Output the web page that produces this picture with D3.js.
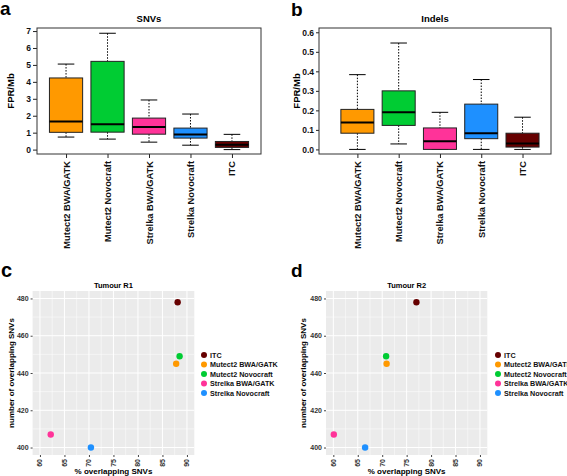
<!DOCTYPE html>
<html>
<head>
<meta charset="utf-8">
<script src="https://cdn.jsdelivr.net/npm/d3@7"></script>
<style>
  html, body { margin: 0; padding: 0; background: #fff; }
  svg { display: block; font-family: "Liberation Sans", Arial, Helvetica, sans-serif; }
</style>
</head>
<body>
<svg id="chart" width="567" height="476"></svg>
<script>
// ---------- DATA ----------
const methods = ["Mutect2 BWA/GATK", "Mutect2 Novocraft", "Strelka BWA/GATK", "Strelka Novocraft", "ITC"];
const boxColors = ["#FF9900", "#00CC33", "#FF3399", "#1E90FF", "#660000"];

// SNVs FPR/Mb boxplot stats
const snvLow  = [0.74, 0.62, 0.44, 0.26, 0.0];
const snvQ1   = [1.02, 1.03, 0.91, 0.68, 0.13];
const snvMed  = [1.66, 1.49, 1.34, 0.89, 0.28];
const snvQ3   = [4.23, 5.21, 1.86, 1.27, 0.48];
const snvHigh = [5.05, 6.87, 2.93, 2.10, 0.90];
const snvTicks = [0, 1, 2, 3, 4, 5, 6, 7];

// Indels FPR/Mb boxplot stats
const indLow  = [0.0, 0.028, 0.0, 0.0, 0.0];
const indQ1   = [0.083, 0.123, 0.0, 0.055, 0.012];
const indMed  = [0.138, 0.190, 0.042, 0.083, 0.030];
const indQ3   = [0.205, 0.300, 0.110, 0.232, 0.083];
const indHigh = [0.383, 0.545, 0.190, 0.358, 0.165];
const indTicks = [0.0, 0.1, 0.2, 0.3, 0.4, 0.5, 0.6];

// Scatter: legend order
const scatterNames  = ["ITC", "Mutect2 BWA/GATK", "Mutect2 Novocraft", "Strelka BWA/GATK", "Strelka Novocraft"];
const scatterColors = ["#660000", "#FF9900", "#00CC33", "#FF3399", "#1E90FF"];
const pctR1 = [88.1, 87.8, 88.5, 62.2, 70.4];
const nR1   = [478, 445, 449, 407, 400];
const pctR2 = [77.0, 70.9, 70.8, 60.1, 66.5];
const nR2   = [478, 445, 449, 407, 400];
const pctTicks = [60, 65, 70, 75, 80, 85, 90];
const nTicks = [400, 420, 440, 460, 480];

// ---------- DRAW ----------
const svg = d3.select("#chart");
const font = "'Liberation Sans', Arial, Helvetica, sans-serif";

function panelLabel(txt, x, y, size) {
  svg.append("text").attr("x", x).attr("y", y).text(txt)
    .attr("font-size", size).attr("font-weight", "bold").attr("fill", "#000");
}
panelLabel("a", 0, 14.5, 19);
panelLabel("b", 291, 15.5, 19);
panelLabel("c", 1, 277, 20);
panelLabel("d", 291, 277, 19);

function boxPanel(opt) {
  const g = svg.append("g");
  const x = d3.scaleLinear().domain(opt.xDomain).range([opt.left, opt.right]);
  const y = d3.scaleLinear().domain(opt.yDomain).range([opt.bottom, opt.top]);
  const unit = x(1) - x(0);
  const bw = 0.8 * unit;

  g.append("text").attr("x", (opt.left + opt.right) / 2).attr("y", 22)
    .attr("text-anchor", "middle").attr("font-size", 9.5).attr("font-weight", "bold").text(opt.title);

  const yAxis = d3.axisLeft(y).tickValues(opt.ticks).tickSize(opt.tick).tickPadding(2)
    .tickFormat(opt.fmt);
  const ya = g.append("g").attr("transform", `translate(${opt.left},0)`).call(yAxis);
  ya.select(".domain").remove();
  ya.selectAll("text").attr("font-size", 8.5).attr("font-family", font).attr("font-weight", "bold").attr("fill", "#111");
  ya.selectAll("line").attr("stroke", "#222");

  g.append("text").attr("transform", `translate(${opt.yTitleX},${(opt.top + opt.bottom) / 2}) rotate(-90)`)
    .attr("text-anchor", "middle").attr("font-size", 9.5).attr("font-weight", "bold").text("FPR/Mb");

  const xAxis = d3.axisBottom(x).tickValues([1, 2, 3, 4, 5]).tickSize(4).tickFormat("");
  const xa = g.append("g").attr("transform", `translate(0,${opt.bottom})`).call(xAxis);
  xa.select(".domain").remove();
  xa.selectAll("line").attr("stroke", "#222");
  methods.forEach((m, i) => {
    g.append("text").attr("transform", `translate(${x(i + 1) + 3.5},${opt.bottom + 7}) rotate(-90)`)
      .attr("text-anchor", "end").attr("font-size", 9.3).attr("font-weight", "bold").attr("fill", "#111").text(m);
  });

  methods.forEach((m, i) => {
    const cx = x(i + 1);
    g.append("line").attr("x1", cx).attr("x2", cx).attr("y1", y(opt.high[i])).attr("y2", y(opt.q3[i]))
      .attr("stroke", "#000").attr("stroke-dasharray", "1.5,1.5").attr("stroke-width", 1);
    g.append("line").attr("x1", cx).attr("x2", cx).attr("y1", y(opt.q1[i])).attr("y2", y(opt.low[i]))
      .attr("stroke", "#000").attr("stroke-dasharray", "1.5,1.5").attr("stroke-width", 1);
    [opt.high[i], opt.low[i]].forEach(v => {
      g.append("line").attr("x1", cx - bw / 4).attr("x2", cx + bw / 4).attr("y1", y(v)).attr("y2", y(v))
        .attr("stroke", "#000").attr("stroke-width", 1);
    });
    g.append("rect").attr("x", cx - bw / 2).attr("width", bw)
      .attr("y", y(opt.q3[i])).attr("height", Math.max(0.5, y(opt.q1[i]) - y(opt.q3[i])))
      .attr("fill", boxColors[i]).attr("stroke", "#222").attr("stroke-width", 1);
    g.append("line").attr("x1", cx - bw / 2).attr("x2", cx + bw / 2).attr("y1", y(opt.med[i])).attr("y2", y(opt.med[i]))
      .attr("stroke", "#000").attr("stroke-width", 2);
  });

  g.append("rect").attr("x", opt.left).attr("y", opt.top).attr("width", opt.right - opt.left)
    .attr("height", opt.bottom - opt.top).attr("fill", "none").attr("stroke", "#333").attr("stroke-width", 1);
}

boxPanel({
  title: "SNVs", left: 37, right: 261, top: 28, bottom: 154,
  xDomain: [0.3, 5.7], yDomain: [-0.26, 7.18], ticks: snvTicks, fmt: d3.format("d"),
  yTitleX: 14, tick: 4,
  low: snvLow, q1: snvQ1, med: snvMed, q3: snvQ3, high: snvHigh
});
boxPanel({
  title: "Indels", left: 319, right: 551, top: 28, bottom: 154,
  xDomain: [0.07, 5.69], yDomain: [-0.0235, 0.622], ticks: indTicks, fmt: d3.format(".1f"),
  yTitleX: 300, tick: 3,
  low: indLow, q1: indQ1, med: indMed, q3: indQ3, high: indHigh
});

function scatterPanel(opt) {
  const g = svg.append("g");
  const x = d3.scaleLinear().domain([58.5, 91.5]).range([opt.left, opt.right]);
  const y = d3.scaleLinear().domain([396, 484]).range([455, 291]);
  const top = 291, bottom = 455;

  g.append("rect").attr("x", opt.left).attr("y", top).attr("width", opt.right - opt.left)
    .attr("height", bottom - top).attr("fill", "#EBEBEB");

  const xMinor = d3.range(57.5, 92, 2.5).filter(v => v > 58.5 && v < 91.5 && v % 5 !== 0);
  const yMinor = [390, 410, 430, 450, 470].filter(v => v > 396 && v < 484);
  xMinor.forEach(v => g.append("line").attr("x1", x(v)).attr("x2", x(v)).attr("y1", top).attr("y2", bottom)
    .attr("stroke", "#fff").attr("stroke-width", 0.5));
  yMinor.forEach(v => g.append("line").attr("y1", y(v)).attr("y2", y(v)).attr("x1", opt.left).attr("x2", opt.right)
    .attr("stroke", "#fff").attr("stroke-width", 0.5));
  pctTicks.forEach(v => g.append("line").attr("x1", x(v)).attr("x2", x(v)).attr("y1", top).attr("y2", bottom)
    .attr("stroke", "#fff").attr("stroke-width", 1));
  nTicks.forEach(v => g.append("line").attr("y1", y(v)).attr("y2", y(v)).attr("x1", opt.left).attr("x2", opt.right)
    .attr("stroke", "#fff").attr("stroke-width", 1));

  const ya = g.append("g").attr("transform", `translate(${opt.left},0)`)
    .call(d3.axisLeft(y).tickValues(nTicks).tickSize(2).tickPadding(2));
  ya.select(".domain").remove();
  ya.selectAll("line").attr("stroke", "#444");
  ya.selectAll("text").attr("font-size", 7).attr("font-family", font).attr("font-weight", "bold").attr("fill", "#333");

  const xa = g.append("g").attr("transform", `translate(0,${bottom})`)
    .call(d3.axisBottom(x).tickValues(pctTicks).tickSize(2).tickFormat(""));
  xa.select(".domain").remove();
  xa.selectAll("line").attr("stroke", "#444");
  pctTicks.forEach(v => {
    g.append("text").attr("transform", `translate(${x(v) + 2.5},${bottom + 4}) rotate(-90)`)
      .attr("text-anchor", "end").attr("font-size", 7).attr("font-weight", "bold").attr("fill", "#333").text(v);
  });

  g.append("text").attr("x", (opt.left + opt.right) / 2).attr("y", 288).attr("text-anchor", "middle")
    .attr("font-size", 7.5).attr("font-weight", "bold").text(opt.title);
  g.append("text").attr("x", (opt.left + opt.right) / 2).attr("y", 474).attr("text-anchor", "middle")
    .attr("font-size", 8).attr("font-weight", "bold").text("% overlapping SNVs");
  g.append("text").attr("transform", `translate(${opt.yTitleX},${(top + bottom) / 2}) rotate(-90)`)
    .attr("text-anchor", "middle").attr("font-size", 8).attr("font-weight", "bold").text("number of overlapping SNVs");

  scatterNames.forEach((n, i) => {
    g.append("circle").attr("cx", x(opt.px[i])).attr("cy", y(opt.py[i])).attr("r", 3.2)
      .attr("fill", scatterColors[i]);
  });

  scatterNames.forEach((n, i) => {
    const ly = 355 + i * 9.5;
    g.append("circle").attr("cx", opt.legX).attr("cy", ly).attr("r", 3).attr("fill", scatterColors[i]);
    g.append("text").attr("x", opt.legX + 6).attr("y", ly + 2.5).attr("font-size", 7.2)
      .attr("font-weight", "bold").attr("fill", "#111").text(n);
  });
}

scatterPanel({ title: "Tumour R1", left: 32.6, right: 194.3, yTitleX: 14, legX: 204, px: pctR1, py: nR1 });
scatterPanel({ title: "Tumour R2", left: 326, right: 487.3, yTitleX: 306, legX: 498, px: pctR2, py: nR2 });
</script>
</body>
</html>
